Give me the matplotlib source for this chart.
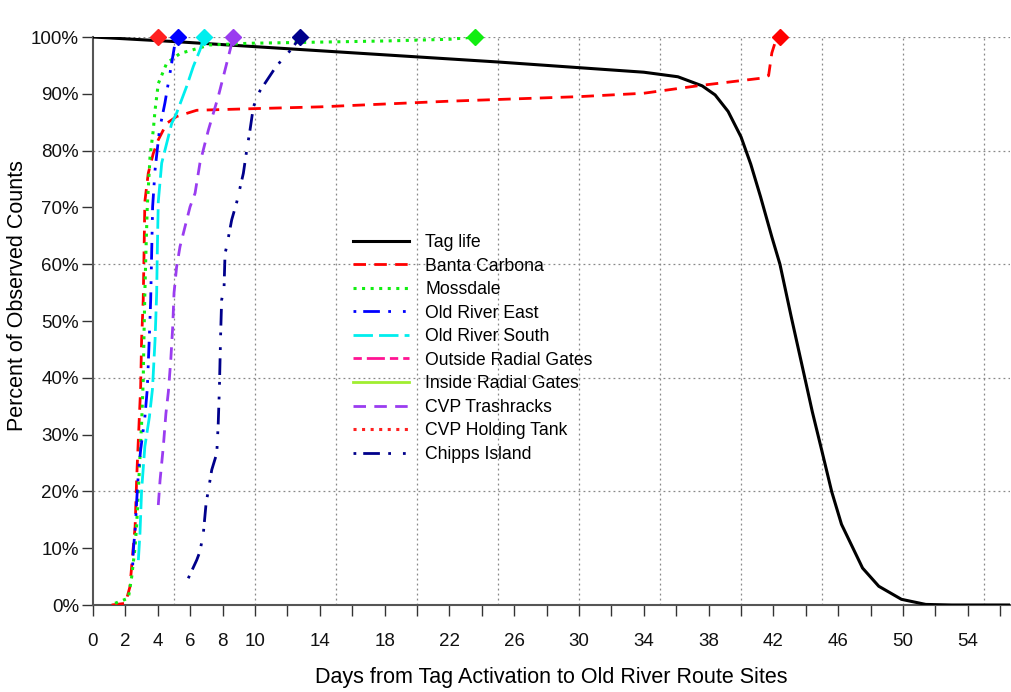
import numpy as np
import matplotlib
matplotlib.use('Agg')
import matplotlib.pyplot as plt

plt.rcParams['font.family'] = ['Liberation Sans', 'DejaVu Sans']

# days from tag activation / cumulative percent detected
tag_days = [0, 5, 10, 15, 20, 25, 30, 34, 36.1, 37.6, 38.4, 39.2, 40.0, 40.6, 41.2, 41.9, 42.4,
            43.1, 43.95, 44.4, 45.0, 45.6, 46.2, 47.5, 48.5, 49.9, 51.4, 53, 57]
tag_pct = [100, 99.2, 98.3, 97.4, 96.5, 95.6, 94.6, 93.8, 93.0, 91.4, 89.8, 86.9, 82.4, 77.6, 71.9,
           64.8, 60.0, 50.7, 39.8, 34.0, 27.0, 19.9, 14.2, 6.5, 3.3, 1.0, 0.1, 0.0, 0.0]

banta_days = [1.15, 2.0, 2.28, 2.49, 2.6, 2.7, 2.86, 2.94, 3.0, 3.1, 3.15, 3.2, 3.41, 3.72, 4.03,
              4.55, 5.16, 6.4, 10.1, 14, 18, 22, 26, 30, 34, 37.3, 41.4, 41.7, 41.9, 42.1, 42.4]
banta_pct = [0, 0.3, 3.2, 10.3, 13.8, 22.6, 33.1, 38.2, 46.7, 53.7, 61.9, 71.0, 76.0, 79.5, 81.9,
             84.8, 86.0, 87.1, 87.4, 87.7, 88.2, 88.7, 89.1, 89.5, 90.1, 91.4, 92.8, 93.2, 97.2, 99.0, 100]

moss_days = [1.36, 2.18, 2.39, 2.6, 2.7, 2.8, 2.9, 3.0, 3.1, 3.15, 3.2, 3.27, 3.35, 3.52, 3.72,
             3.83, 4.03, 4.55, 5.37, 7.2, 9.7, 14, 18, 22, 23.6]
moss_pct = [0.3, 1.2, 5, 10.3, 14.4, 20.2, 26.1, 32, 39.6, 47.9, 54.9, 62.5, 70.1, 78.9, 83.6,
            87.1, 91.8, 95.4, 97.1, 98.6, 98.9, 99.1, 99.3, 99.6, 100]

ore_days = [2.45, 2.49, 2.6, 2.7, 2.8, 2.94, 3.2, 3.35, 3.47, 3.56, 3.62, 3.68, 3.83, 4.1, 4.44,
            4.75, 4.92, 5.06, 5.27]
ore_pct = [7, 9.7, 13.2, 18.5, 23.2, 27.3, 33, 38, 46.7, 53.7, 61.9, 70.1, 76.6, 83.6, 88.4,
           93.6, 96.5, 98.9, 100]

ors_days = [2.8, 2.9, 3.0, 3.2, 3.48, 3.67, 3.83, 3.93, 3.97, 4.03, 4.24, 4.86, 5.16, 5.78, 6.19, 6.6, 6.85]
ors_pct = [7.9, 12.7, 20.2, 27.9, 33.1, 38, 46.7, 54.9, 62.5, 71, 77.8, 84.8, 86.6, 91.3, 94.8, 97.7, 100]

trash_days = [4.03, 4.14, 4.34, 4.5, 4.65, 4.8, 4.92, 5.0, 5.16, 5.37, 5.68, 5.99, 6.3, 6.6, 7.12,
              7.73, 8.15, 8.46, 8.66]
trash_pct = [17.6, 22, 27.9, 33.7, 37.5, 43.1, 49, 54.9, 59.5, 63.1, 66.6, 70.1, 72.5, 77.8, 83.6,
             89.5, 94.2, 97.7, 100]

tank_days = [4.0]
tank_pct = [100]

chipps_days = [5.88, 6.4, 6.6, 6.81, 6.98, 7.12, 7.33, 7.64, 7.73, 7.8, 7.88, 7.94, 8.09, 8.15, 8.25,
               8.56, 8.87, 9.28, 9.49, 9.69, 9.9, 10.3, 11.3, 12.2, 12.8]
chipps_pct = [4.7, 7.9, 9.4, 12.6, 17.9, 20.2, 23.8, 26.7, 32, 38, 47.8, 53.7, 56, 61.9, 63.1,
              67.8, 70.9, 76, 80.1, 83.6, 87.7, 90.5, 94.8, 97.7, 100]

x_ticks = list(range(0, 57, 2))
x_labeled = [0, 2, 4, 6, 8, 10, 14, 18, 22, 26, 30, 34, 38, 42, 46, 50, 54]
y_ticks = list(range(0, 101, 10))

dotdash = (0, (1, 2.5, 6, 3, 1, 4.3))
series = [
    # label, days, pct, color, linestyle, width
    ('Banta Carbona', banta_days, banta_pct, '#ff0000', (0, (4.5, 3)), 2),
    ('Mossdale', moss_days, moss_pct, '#11ee11', (0, (1, 1.8)), 2.2),
    ('Old River East', ore_days, ore_pct, '#0000ff', dotdash, 2),
    ('Old River South', ors_days, ors_pct, '#00eeee', (0, (7, 2.2)), 2),
    ('Outside Radial Gates', [], [], '#ff1493', (0, (3, 1.8, 6.5, 1.8)), 2),
    ('Inside Radial Gates', [], [], '#a0ee30', '-', 2),
    ('CVP Trashracks', trash_days, trash_pct, '#9a3cf0', (0, (4.5, 3)), 2),
    ('CVP Holding Tank', tank_days, tank_pct, '#ff2020', (0, (1, 1.8)), 2.2),
    ('Chipps Island', chipps_days, chipps_pct, '#00008b', dotdash, 2),
]

fig = plt.figure(figsize=(10.11, 6.92), dpi=100)
ax = fig.add_axes([93 / 1011, 87 / 692, 917 / 1011, 568 / 692])

for d in range(5, 57, 5):
    ax.axvline(d, color='#888888', lw=0.9, ls=(0, (1.5, 2.5)), zorder=0)
for p in range(20, 101, 20):
    ax.axhline(p, color='#888888', lw=0.9, ls=(0, (1.5, 2.5)), zorder=0)

ax.plot(tag_days, tag_pct, color='black', lw=2.2, label='Tag life', zorder=3)
for name, days, pct, col, ls, lw in series:
    ax.plot(days, pct, color=col, ls=ls, lw=lw, label=name, zorder=3)
    if days:
        ax.plot(days[-1], pct[-1], marker='D', color=col, ms=8, ls='none',
                clip_on=False, zorder=4)

ax.set_xlim(0, 56.6)
ax.set_ylim(0, 100)
ax.set_xticks(x_ticks)
ax.set_xticklabels([str(t) if t in x_labeled else '' for t in x_ticks])
ax.set_yticks(y_ticks)
ax.set_yticklabels(['%d%%' % t for t in y_ticks])
ax.tick_params(axis='both', labelsize=13.5, length=8, width=1, color='#333333', labelcolor='#111111')
ax.tick_params(axis='x', pad=12)
ax.tick_params(axis='y', pad=2)

for s in ['top', 'right']:
    ax.spines[s].set_visible(False)
ax.spines['left'].set_color('#555555')
ax.spines['bottom'].set_color('#555555')
ax.spines['left'].set_linewidth(1.5)
ax.spines['bottom'].set_linewidth(1.5)

ax.set_xlabel('Days from Tag Activation to Old River Route Sites', fontsize=15.5, va='center')
ax.set_ylabel('Percent of Observed Counts', fontsize=15.5, va='center')
ax.xaxis.set_label_coords(0.5, (605 - 678) / 568)
ax.yaxis.set_label_coords((18 - 93) / 917, (605 - 296) / 568)

ax.legend(loc='upper left', bbox_to_anchor=((353 - 93) / 917, (605 - 234) / 568),
          frameon=False, fontsize=12.7, handlelength=3.2, handletextpad=0.9,
          labelspacing=0.37, borderpad=0, borderaxespad=0)

plt.savefig('out.png', dpi=100)
